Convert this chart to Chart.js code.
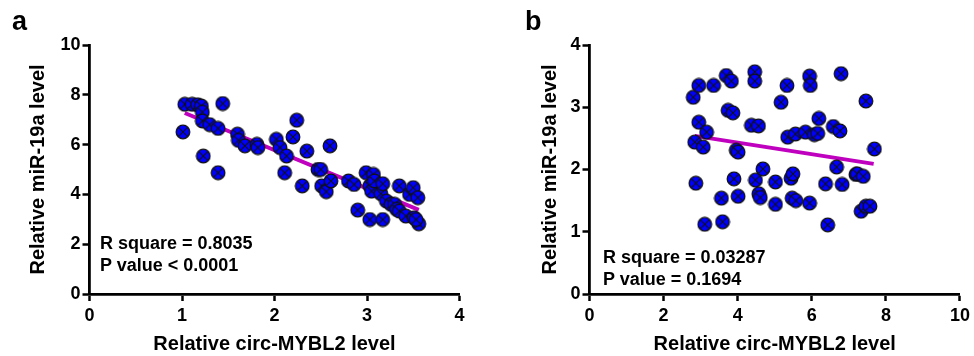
<!DOCTYPE html>
<html lang="en">
<head>
<meta charset="UTF-8">
<title>circ-MYBL2 vs miR-19a</title>
<script src="https://cdn.jsdelivr.net/npm/chart.js"></script>
<style>
  body { margin: 0; background: #fff; font-family: 'Liberation Sans', Arial, sans-serif; }
  #wrap { position: relative; width: 974px; height: 356px; overflow: hidden; }
  .panel { position: absolute; top: 0; width: 487px; height: 356px; }
  .letter { position: absolute; font-weight: bold; font-size: 27px; line-height: 27px; }
  .note { position: absolute; font-weight: bold; font-size: 18px; line-height: 22px; white-space: nowrap; }
</style>
</head>
<body>
<div id="wrap">
  <div class="panel" style="left:0"><canvas id="chartA" width="487" height="356"></canvas></div>
  <div class="panel" style="left:487px"><canvas id="chartB" width="487" height="356"></canvas></div>
  <div class="letter" style="left:12px; top:8px">a</div>
  <div class="letter" style="left:525px; top:8px">b</div>
  <div class="note" style="left:100px; top:232px">R square = 0.8035<br>P value &lt; 0.0001</div>
  <div class="note" style="left:603px; top:246px">R square = 0.03287<br>P value = 0.1694</div>
</div>
<script>
// panel a: relative circ-MYBL2 (x) vs relative miR-19a (y)
const aX = [1.03, 1.11, 1.17, 1.21, 1.22, 1.22, 1.30, 1.39, 1.44, 1.01, 1.23, 1.39,
  1.60, 1.61, 1.68, 1.81, 1.82,
  2.02, 2.06, 2.13, 2.11, 2.20, 2.24, 2.30, 2.35, 2.47, 2.50, 2.51, 2.56, 2.60, 2.61,
  2.80, 2.86, 2.90, 2.99, 3.03, 3.03, 3.05, 3.07, 3.08, 3.15, 3.17, 3.17, 3.21, 3.26,
  3.30, 3.32, 3.35, 3.35, 3.42, 3.46, 3.50, 3.51, 3.55, 3.56, 3.53];
const aY = [7.62, 7.62, 7.60, 7.55, 7.30, 6.95, 6.80, 6.65, 7.65, 6.51, 5.54, 4.87,
  6.42, 6.17, 5.95, 6.01, 5.88,
  6.21, 5.88, 5.54, 4.87, 6.31, 6.98, 4.34, 5.74, 5.00, 5.00, 4.34, 4.11, 5.95, 4.54,
  4.54, 4.40, 3.37, 4.87, 2.99, 4.34, 4.13, 4.80, 4.54, 4.03, 4.43, 2.99, 3.73, 3.60,
  3.60, 3.40, 4.34, 3.33, 3.13, 4.00, 4.27, 3.06, 3.87, 2.82, 2.99];
const aFitX = [1.03, 3.56];
const aFitY = [7.27, 3.38];

// panel b
const bX = [2.80, 2.95, 3.35, 3.69, 3.83, 4.46, 4.46, 5.17, 5.33, 5.94, 5.96, 6.79, 7.46,
  2.95, 3.16, 2.84, 3.07, 3.74, 3.87, 3.96, 4.01, 4.37, 4.56, 5.35, 5.56, 5.83, 6.07,
  6.16, 6.19, 6.58, 6.76, 7.69,
  2.87, 3.11, 3.56, 3.59, 3.90, 4.01, 4.48, 4.57, 4.61, 4.68, 5.02, 5.02, 5.44, 5.49,
  5.47, 5.57, 5.94, 6.37, 6.43, 6.67, 6.82, 7.19, 7.23, 7.39, 7.33, 7.46, 7.57];
const bY = [3.16, 3.35, 3.35, 3.51, 3.42, 3.57, 3.42, 3.08, 3.35, 3.50, 3.35, 3.54, 3.10,
  2.76, 2.60, 2.44, 2.36, 2.95, 2.91, 2.31, 2.28, 2.71, 2.70, 2.52, 2.57, 2.60, 2.56,
  2.58, 2.82, 2.69, 2.62, 2.33,
  1.78, 1.12, 1.54, 1.16, 1.85, 1.57, 1.83, 1.61, 1.55, 2.01, 1.80, 1.44, 1.86, 1.93,
  1.54, 1.50, 1.46, 1.77, 1.11, 2.04, 1.76, 1.92, 1.93, 1.89, 1.33, 1.41, 1.41];
const bFitX = [2.84, 7.67];
const bFitY = [2.54, 2.09];

const xTitle = 'Relative circ-MYBL2 level';
const yTitle = 'Relative miR-19a level';

// blue circle with a cross
function makeMarker() {
  const c = document.createElement('canvas');
  c.width = 16; c.height = 16;
  const g = c.getContext('2d');
  g.beginPath();
  g.arc(8, 8, 6.8, 0, Math.PI * 2);
  g.fillStyle = '#0000ff';
  g.fill();
  g.lineWidth = 1.3;
  g.strokeStyle = '#111';
  g.stroke();
  const d = 4.7;
  g.beginPath();
  g.moveTo(8 - d, 8 - d); g.lineTo(8 + d, 8 + d);
  g.moveTo(8 + d, 8 - d); g.lineTo(8 - d, 8 + d);
  g.lineWidth = 1.1;
  g.stroke();
  return c;
}
const marker = makeMarker();

function toPts(xs, ys) {
  return xs.map((x, i) => ({ x: x, y: ys[i] }));
}

function makeChart(id, xs, ys, fx, fy, opt) {
  const tickFont = { family: "'Liberation Sans', Arial", size: 18, weight: 'bold' };
  const titleFont = { family: "'Liberation Sans', Arial", size: 20, weight: 'bold' };
  const axisGrid = {
    drawOnChartArea: false,
    drawTicks: true,
    tickLength: 7,
    tickWidth: 2.5,
    tickColor: '#000'
  };
  return new Chart(document.getElementById(id), {
    type: 'scatter',
    data: {
      datasets: [
        {
          data: toPts(xs, ys),
          pointStyle: marker,
          pointRadius: 7,
          order: 1
        },
        {
          type: 'line',
          data: toPts(fx, fy),
          borderColor: '#bf00bf',
          borderWidth: 4,
          pointRadius: 0,
          fill: false,
          order: 2
        }
      ]
    },
    options: {
      responsive: false,
      animation: false,
      layout: { padding: { left: 0, top: 45, right: opt.padRight, bottom: 0 } },
      plugins: { legend: { display: false }, tooltip: { enabled: false } },
      scales: {
        x: {
          type: 'linear',
          min: 0, max: opt.xMax,
          ticks: { stepSize: opt.xStep, color: '#000', font: tickFont, padding: 4, maxRotation: 0 },
          grid: axisGrid,
          border: { color: '#000', width: 2.8 },
          title: { display: true, text: xTitle, color: '#000', font: titleFont, padding: { top: 0, bottom: 0 } },
          afterFit: s => { s.height = 62; }
        },
        y: {
          type: 'linear',
          min: 0, max: opt.yMax,
          ticks: { stepSize: opt.yStep, color: '#000', font: tickFont, padding: 2 },
          grid: axisGrid,
          border: { color: '#000', width: 2.8 },
          title: { display: true, text: yTitle, color: '#000', font: titleFont, padding: { top: opt.yTitlePad, bottom: 0 } },
          afterFit: s => { s.width = opt.yWidth; }
        }
      }
    }
  });
}

makeChart('chartA', aX, aY, aFitX, aFitY,
  { xMax: 4, xStep: 1, yMax: 10, yStep: 2, padRight: 27.5, yWidth: 89.5, yTitlePad: 26 });
makeChart('chartB', bX, bY, bFitX, bFitY,
  { xMax: 10, xStep: 2, yMax: 4, yStep: 1, padRight: 13, yWidth: 102.5, yTitlePad: 51 });
</script>
</body>
</html>
